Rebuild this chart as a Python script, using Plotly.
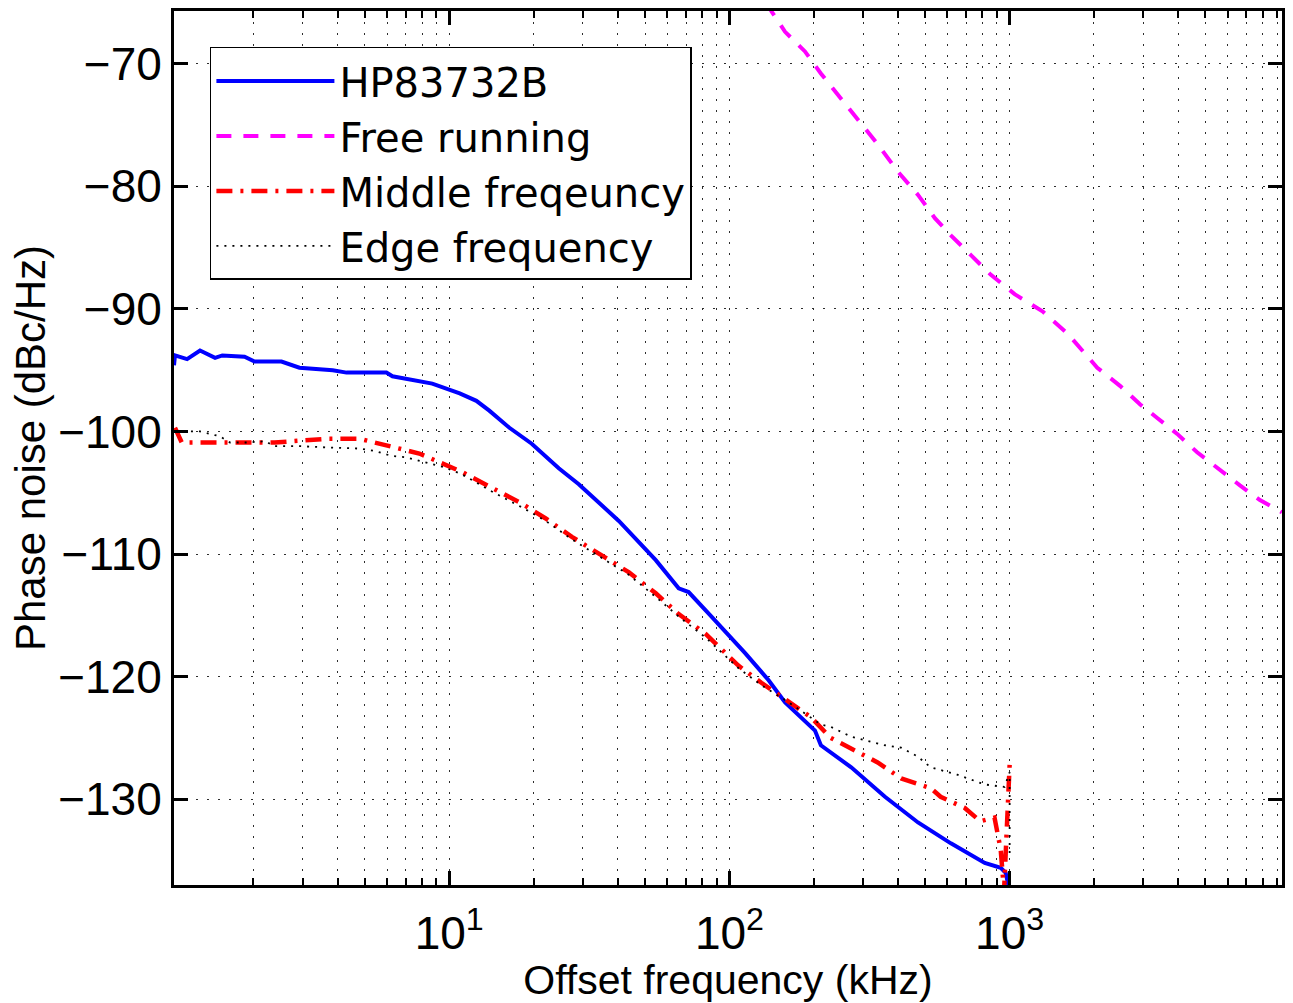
import plotly.graph_objects as go

# ---- data (offset frequency in kHz, phase noise in dBc/Hz) ----
hp_f = [1.042, 1.05, 1.16, 1.29, 1.46, 1.55, 1.86, 2.02, 2.52, 2.92, 3.84, 4.30, 5.97, 6.27,
        8.70, 10.9, 12.5, 13.9, 16.4, 19.7, 24.6, 29.0, 40.3, 54.6, 65.9, 71.5, 86.3, 114,
        138, 158, 202, 212, 272, 359, 471, 617, 815, 929, 968, 1000]
hp_db = [-94.6, -93.8, -94.1, -93.4, -94.0, -93.8, -93.9, -94.3, -94.3, -94.8, -95.0, -95.2,
         -95.2, -95.5, -96.1, -96.9, -97.5, -98.3, -99.7, -101.0, -103.0, -104.3, -107.3,
         -110.5, -112.8, -113.1, -115.1, -118.1, -120.3, -122.1, -124.4, -125.6, -127.4,
         -129.8, -131.9, -133.6, -135.2, -135.6, -136.0, -137.5]

free_f = [136, 141, 158, 186, 212, 250, 288, 339, 399, 471, 541, 617, 726, 855, 1042, 1310,
          1607, 2055, 2483, 2924, 3363, 3963, 4668, 5586, 6635, 7818, 9370]
free_db = [-65.0, -65.7, -67.4, -69.0, -70.8, -72.8, -74.5, -76.6, -78.8, -80.7, -82.6, -84.0,
           -85.6, -87.2, -88.8, -90.2, -92.0, -94.8, -96.3, -97.8, -98.9, -100.2, -101.7,
           -103.1, -104.4, -105.6, -106.6]

mid_f = [1.05, 1.11, 1.40, 1.84, 2.38, 3.65, 4.79, 6.12, 7.82, 11.1, 14.2, 18.2, 22.1, 27.4,
         36.1, 43.8, 54.6, 65.9, 82.1, 107.6, 130, 158, 195, 230, 286, 338, 410, 523, 567,
         690, 786, 883, 929, 955, 1000]
mid_db = [-99.7, -100.9, -100.9, -100.9, -100.9, -100.6, -100.6, -101.2, -101.8, -103.3,
          -104.6, -105.9, -107.1, -108.6, -110.3, -111.5, -113.2, -114.9, -116.5, -119.1,
          -120.5, -121.9, -123.3, -125.0, -126.1, -127.0, -128.3, -129.1, -129.8, -130.7,
          -131.8, -131.5, -134.1, -137.5, -127.2]

edge_f = [1.05, 1.29, 1.52, 1.65, 1.89, 2.22, 2.36, 2.94, 3.65, 4.79, 5.45, 6.22, 6.98, 8.16,
          9.54, 11.1, 14.2, 18.2, 22.1, 27.4, 36.1, 43.8, 54.6, 65.9, 82.1, 107.6, 130, 158,
          212, 230, 272, 315, 359, 410, 468, 523, 650, 815, 959, 1000, 1000]
edge_db = [-100.0, -100.0, -100.4, -100.9, -100.9, -100.8, -101.2, -101.2, -101.3, -101.4,
           -101.6, -102.0, -102.1, -102.5, -102.9, -103.5, -104.9, -106.2, -107.3, -108.8,
           -110.5, -111.7, -113.5, -115.1, -116.8, -119.3, -120.7, -121.9, -123.9, -124.1,
           -124.9, -125.3, -125.6, -125.8, -126.5, -127.4, -128.0, -128.8, -129.0, -127.8,
           -134.5]

series_names = ["HP83732B", "Free running", "Middle freqeuncy", "Edge frequency"]

major_x = [10, 100, 1000]
major_x_text = ["10<sup>1</sup>", "10<sup>2</sup>", "10<sup>3</sup>"]
minor_x = [m * d for d in (1, 10, 100, 1000) for m in range(2, 10)]

FONT = "Liberation Sans, Arial, Helvetica, sans-serif"
LEGEND_FONT = "DejaVu Sans, Liberation Sans, Arial, sans-serif"
GRID_DASH = "2px,9px"
GRID_COLOR = "rgb(45,45,45)"

fig = go.Figure()
fig.add_trace(go.Scatter(x=hp_f, y=hp_db, mode="lines", name=series_names[0],
                         line=dict(color="rgb(0,0,255)", width=4)))
fig.add_trace(go.Scatter(x=free_f, y=free_db, mode="lines", name=series_names[1],
                         line=dict(color="rgb(255,0,255)", width=4, dash="15px,12px")))
fig.add_trace(go.Scatter(x=mid_f, y=mid_db, mode="lines", name=series_names[2],
                         line=dict(color="rgb(255,0,0)", width=4.5, dash="16px,8px,3px,8px")))
fig.add_trace(go.Scatter(x=edge_f, y=edge_db, mode="lines", name=series_names[3],
                         line=dict(color="black", width=1.8, dash="2px,6px")))

fig.update_layout(
    width=1293, height=1003,
    margin=dict(l=174, r=8, t=9, b=118),
    paper_bgcolor="white", plot_bgcolor="white",
    font=dict(family=FONT, color="black", size=42),
    legend=dict(x=0.0324, y=0.9589, xanchor="left", yanchor="top",
                bgcolor="white", bordercolor="black", borderwidth=1.5,
                font=dict(family=LEGEND_FONT, size=40, color="black"),
                itemwidth=118, tracegroupgap=0),
    showlegend=True,
)

fig.update_xaxes(
    type="log", range=[0.0178, 3.972],
    tickmode="array", tickvals=major_x, ticktext=major_x_text,
    tickfont=dict(size=46, family=FONT),
    ticks="inside", ticklen=14, tickwidth=2.5, tickcolor="black",
    showline=True, linewidth=3, linecolor="black", mirror="allticks",
    showgrid=True, gridcolor=GRID_COLOR, gridwidth=1.2, griddash=GRID_DASH,
    minor=dict(tickmode="array", tickvals=minor_x, ticks="inside", ticklen=7,
               tickwidth=2, tickcolor="black", showgrid=True, gridcolor=GRID_COLOR,
               gridwidth=1.2, griddash=GRID_DASH),
    title=dict(text="Offset frequency (kHz)", font=dict(size=41, family=FONT), standoff=4),
    ticklabelstandoff=6,
)

fig.update_yaxes(
    range=[-137.0, -65.7],
    tickmode="linear", tick0=0, dtick=10,
    tickfont=dict(size=46, family=FONT),
    ticks="inside", ticklen=14, tickwidth=2.5, tickcolor="black",
    showline=True, linewidth=3, linecolor="black", mirror="allticks",
    showgrid=True, gridcolor=GRID_COLOR, gridwidth=1.2, griddash=GRID_DASH,
    zeroline=False,
    title=dict(text="Phase noise (dBc/Hz)", font=dict(size=42, family=FONT), standoff=0),
    ticklabelstandoff=0,
)

fig.write_html("out.html")
